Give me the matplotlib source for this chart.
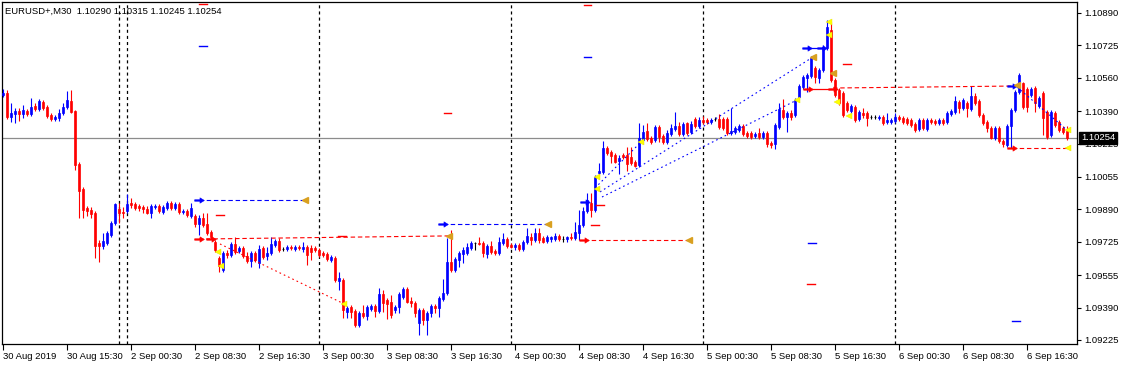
import matplotlib
matplotlib.use('Agg')
import matplotlib.pyplot as plt
from matplotlib.path import Path
import numpy as np

plt.rcParams['font.family'] = ['Liberation Sans', 'DejaVu Sans']
plt.rcParams['lines.scale_dashes'] = False

# ---------------- data ----------------
symbol_title = "EURUSD+,M30  1.10290 1.10315 1.10245 1.10254"
bid = 1.10254

opens = [
 1.10472, 1.10483, 1.10360, 1.10376, 1.10391, 1.10376, 1.10391, 1.10376, 1.10416, 1.10401,
 1.10437, 1.10411, 1.10371, 1.10350, 1.10355, 1.10381, 1.10411, 1.10442, 1.10391, 1.10121,
 1.09994, 1.09897, 1.09887, 1.09872, 1.09719, 1.09704, 1.09719, 1.09760, 1.09821, 1.09892,
 1.09877, 1.09882, 1.09923, 1.09918, 1.09907, 1.09902, 1.09892, 1.09872, 1.09902, 1.09907,
 1.09877, 1.09897, 1.09923, 1.09897, 1.09918, 1.09877, 1.09882, 1.09857, 1.09857, 1.09816,
 1.09846, 1.09816, 1.09775, 1.09724, 1.09643, 1.09582, 1.09668, 1.09658, 1.09714, 1.09678,
 1.09694, 1.09653, 1.09628, 1.09668, 1.09617, 1.09694, 1.09653, 1.09668, 1.09709, 1.09729,
 1.09689, 1.09689, 1.09699, 1.09689, 1.09699, 1.09689, 1.09699, 1.09694, 1.09694, 1.09683,
 1.09668, 1.09663, 1.09633, 1.09643, 1.09526, 1.09531, 1.09368, 1.09393, 1.09373, 1.09302,
 1.09363, 1.09348, 1.09383, 1.09398, 1.09373, 1.09460, 1.09429, 1.09419, 1.09378, 1.09393,
 1.09444, 1.09485, 1.09424, 1.09414, 1.09312, 1.09378, 1.09327, 1.09363, 1.09398, 1.09388,
 1.09434, 1.09465, 1.09622, 1.09582, 1.09633, 1.09663, 1.09668, 1.09694, 1.09719, 1.09719,
 1.09719, 1.09663, 1.09704, 1.09678, 1.09668, 1.09719, 1.09739, 1.09709, 1.09699, 1.09709,
 1.09689, 1.09724, 1.09750, 1.09734, 1.09770, 1.09745, 1.09729, 1.09739, 1.09739, 1.09755,
 1.09739, 1.09739, 1.09750, 1.09745, 1.09770, 1.09811, 1.09882, 1.09923, 1.09887, 1.10075,
 1.10081, 1.10203, 1.10182, 1.10167, 1.10137, 1.10167, 1.10167, 1.10157, 1.10131, 1.10116,
 1.10243, 1.10289, 1.10254, 1.10243, 1.10310, 1.10264, 1.10233, 1.10274, 1.10299, 1.10315,
 1.10274, 1.10330, 1.10284, 1.10350, 1.10315, 1.10345, 1.10345, 1.10335, 1.10350, 1.10350,
 1.10350, 1.10350, 1.10279, 1.10284, 1.10294, 1.10315, 1.10279, 1.10279, 1.10264, 1.10279,
 1.10259, 1.10279, 1.10228, 1.10223, 1.10310, 1.10396, 1.10360, 1.10381, 1.10371, 1.10462,
 1.10513, 1.10559, 1.10569, 1.10610, 1.10559, 1.10600, 1.10712, 1.10803, 1.10549, 1.10498,
 1.10483, 1.10432, 1.10391, 1.10411, 1.10350, 1.10381, 1.10381, 1.10360, 1.10360, 1.10355,
 1.10360, 1.10335, 1.10335, 1.10340, 1.10360, 1.10355, 1.10350, 1.10345, 1.10325, 1.10299,
 1.10345, 1.10299, 1.10345, 1.10340, 1.10330, 1.10345, 1.10335, 1.10376, 1.10386, 1.10437,
 1.10406, 1.10432, 1.10401, 1.10467, 1.10442, 1.10371, 1.10335, 1.10304, 1.10254, 1.10304,
 1.10238, 1.10218, 1.10315, 1.10396, 1.10488, 1.10534, 1.10503, 1.10472, 1.10508, 1.10416,
 1.10483, 1.10386, 1.10269, 1.10381, 1.10335, 1.10304, 1.10290]

highs = [
 1.10503, 1.10498, 1.10432, 1.10406, 1.10406, 1.10422, 1.10401, 1.10457, 1.10432, 1.10452,
 1.10447, 1.10422, 1.10381, 1.10371, 1.10401, 1.10432, 1.10493, 1.10498, 1.10396, 1.10131,
 1.10004, 1.09907, 1.09902, 1.09882, 1.09734, 1.09770, 1.09780, 1.09831, 1.09923, 1.09923,
 1.09902, 1.09969, 1.09948, 1.09928, 1.09918, 1.09913, 1.09907, 1.09918, 1.09918, 1.09918,
 1.09913, 1.09933, 1.09933, 1.09928, 1.09928, 1.09892, 1.09892, 1.09923, 1.09867, 1.09862,
 1.09872, 1.09872, 1.09785, 1.09734, 1.09653, 1.09678, 1.09683, 1.09724, 1.09750, 1.09704,
 1.09704, 1.09673, 1.09678, 1.09678, 1.09709, 1.09704, 1.09699, 1.09750, 1.09739, 1.09745,
 1.09699, 1.09709, 1.09709, 1.09709, 1.09709, 1.09724, 1.09709, 1.09709, 1.09704, 1.09694,
 1.09678, 1.09673, 1.09658, 1.09653, 1.09572, 1.09541, 1.09398, 1.09404, 1.09383, 1.09373,
 1.09404, 1.09404, 1.09409, 1.09409, 1.09490, 1.09480, 1.09439, 1.09454, 1.09404, 1.09470,
 1.09495, 1.09495, 1.09444, 1.09424, 1.09388, 1.09388, 1.09373, 1.09409, 1.09409, 1.09449,
 1.09536, 1.09745, 1.09785, 1.09648, 1.09678, 1.09699, 1.09719, 1.09729, 1.09724, 1.09750,
 1.09729, 1.09714, 1.09729, 1.09689, 1.09750, 1.09770, 1.09750, 1.09719, 1.09719, 1.09719,
 1.09734, 1.09795, 1.09770, 1.09795, 1.09795, 1.09755, 1.09760, 1.09755, 1.09770, 1.09765,
 1.09755, 1.09755, 1.09770, 1.09826, 1.09887, 1.09902, 1.09974, 1.09974, 1.10065, 1.10126,
 1.10238, 1.10213, 1.10192, 1.10177, 1.10167, 1.10177, 1.10208, 1.10208, 1.10142, 1.10330,
 1.10320, 1.10330, 1.10264, 1.10320, 1.10320, 1.10274, 1.10294, 1.10325, 1.10386, 1.10335,
 1.10335, 1.10335, 1.10340, 1.10360, 1.10360, 1.10366, 1.10355, 1.10355, 1.10360, 1.10376,
 1.10360, 1.10360, 1.10406, 1.10315, 1.10325, 1.10325, 1.10289, 1.10289, 1.10284, 1.10304,
 1.10289, 1.10289, 1.10238, 1.10330, 1.10432, 1.10452, 1.10391, 1.10396, 1.10457, 1.10528,
 1.10574, 1.10584, 1.10671, 1.10620, 1.10610, 1.10727, 1.10854, 1.10844, 1.10559, 1.10508,
 1.10493, 1.10442, 1.10427, 1.10422, 1.10396, 1.10406, 1.10391, 1.10371, 1.10371, 1.10371,
 1.10371, 1.10381, 1.10355, 1.10381, 1.10371, 1.10366, 1.10360, 1.10355, 1.10335, 1.10355,
 1.10355, 1.10355, 1.10355, 1.10350, 1.10355, 1.10355, 1.10391, 1.10401, 1.10467, 1.10447,
 1.10457, 1.10442, 1.10518, 1.10483, 1.10452, 1.10381, 1.10345, 1.10315, 1.10315, 1.10315,
 1.10248, 1.10325, 1.10406, 1.10498, 1.10584, 1.10539, 1.10513, 1.10513, 1.10518, 1.10467,
 1.10493, 1.10396, 1.10396, 1.10391, 1.10345, 1.10315, 1.10315]

lows = [
 1.10462, 1.10350, 1.10335, 1.10330, 1.10340, 1.10355, 1.10366, 1.10366, 1.10391, 1.10391,
 1.10396, 1.10355, 1.10340, 1.10340, 1.10340, 1.10371, 1.10401, 1.10381, 1.10091, 1.09846,
 1.09846, 1.09857, 1.09846, 1.09643, 1.09622, 1.09689, 1.09709, 1.09750, 1.09811, 1.09821,
 1.09846, 1.09872, 1.09897, 1.09887, 1.09882, 1.09872, 1.09867, 1.09846, 1.09892, 1.09872,
 1.09867, 1.09887, 1.09887, 1.09887, 1.09867, 1.09867, 1.09851, 1.09846, 1.09801, 1.09760,
 1.09801, 1.09760, 1.09739, 1.09673, 1.09572, 1.09572, 1.09643, 1.09648, 1.09663, 1.09668,
 1.09643, 1.09617, 1.09597, 1.09622, 1.09592, 1.09638, 1.09633, 1.09658, 1.09699, 1.09673,
 1.09678, 1.09678, 1.09683, 1.09678, 1.09683, 1.09673, 1.09607, 1.09633, 1.09673, 1.09648,
 1.09648, 1.09628, 1.09622, 1.09521, 1.09480, 1.09337, 1.09337, 1.09337, 1.09292, 1.09292,
 1.09337, 1.09327, 1.09373, 1.09342, 1.09363, 1.09368, 1.09332, 1.09337, 1.09363, 1.09363,
 1.09434, 1.09414, 1.09393, 1.09342, 1.09251, 1.09302, 1.09251, 1.09342, 1.09363, 1.09342,
 1.09424, 1.09454, 1.09572, 1.09572, 1.09597, 1.09617, 1.09658, 1.09683, 1.09683, 1.09709,
 1.09648, 1.09643, 1.09663, 1.09658, 1.09658, 1.09709, 1.09694, 1.09694, 1.09683, 1.09678,
 1.09678, 1.09714, 1.09709, 1.09724, 1.09719, 1.09719, 1.09719, 1.09724, 1.09729, 1.09729,
 1.09724, 1.09724, 1.09734, 1.09734, 1.09734, 1.09801, 1.09872, 1.09851, 1.09877, 1.10065,
 1.10070, 1.10167, 1.10126, 1.10126, 1.10070, 1.10147, 1.10086, 1.10116, 1.10106, 1.10106,
 1.10233, 1.10238, 1.10223, 1.10233, 1.10233, 1.10223, 1.10223, 1.10264, 1.10289, 1.10264,
 1.10264, 1.10269, 1.10274, 1.10304, 1.10304, 1.10325, 1.10325, 1.10325, 1.10340, 1.10299,
 1.10294, 1.10269, 1.10269, 1.10274, 1.10284, 1.10264, 1.10254, 1.10248, 1.10254, 1.10248,
 1.10248, 1.10208, 1.10203, 1.10198, 1.10299, 1.10350, 1.10284, 1.10345, 1.10360, 1.10452,
 1.10503, 1.10488, 1.10559, 1.10534, 1.10534, 1.10590, 1.10701, 1.10539, 1.10462, 1.10422,
 1.10360, 1.10386, 1.10381, 1.10335, 1.10340, 1.10355, 1.10315, 1.10350, 1.10350, 1.10345,
 1.10320, 1.10325, 1.10325, 1.10330, 1.10340, 1.10325, 1.10320, 1.10310, 1.10284, 1.10289,
 1.10294, 1.10289, 1.10325, 1.10320, 1.10320, 1.10320, 1.10325, 1.10366, 1.10376, 1.10381,
 1.10396, 1.10360, 1.10391, 1.10422, 1.10360, 1.10320, 1.10284, 1.10248, 1.10243, 1.10228,
 1.10208, 1.10208, 1.10203, 1.10386, 1.10478, 1.10401, 1.10386, 1.10462, 1.10386, 1.10406,
 1.10269, 1.10248, 1.10259, 1.10310, 1.10284, 1.10274, 1.10245]

closes = [
 1.10483, 1.10360, 1.10381, 1.10391, 1.10376, 1.10396, 1.10376, 1.10411, 1.10401, 1.10442,
 1.10406, 1.10366, 1.10350, 1.10360, 1.10381, 1.10411, 1.10447, 1.10386, 1.10116, 1.09984,
 1.09887, 1.09882, 1.09867, 1.09704, 1.09704, 1.09729, 1.09770, 1.09821, 1.09918, 1.09872,
 1.09872, 1.09918, 1.09913, 1.09897, 1.09897, 1.09892, 1.09872, 1.09907, 1.09907, 1.09882,
 1.09902, 1.09923, 1.09897, 1.09918, 1.09877, 1.09882, 1.09862, 1.09897, 1.09816, 1.09846,
 1.09811, 1.09770, 1.09750, 1.09683, 1.09602, 1.09668, 1.09658, 1.09714, 1.09673, 1.09694,
 1.09653, 1.09628, 1.09668, 1.09633, 1.09689, 1.09648, 1.09668, 1.09714, 1.09729, 1.09683,
 1.09689, 1.09699, 1.09694, 1.09699, 1.09694, 1.09699, 1.09658, 1.09673, 1.09683, 1.09658,
 1.09658, 1.09638, 1.09648, 1.09531, 1.09541, 1.09378, 1.09388, 1.09368, 1.09302, 1.09363,
 1.09348, 1.09393, 1.09398, 1.09373, 1.09460, 1.09414, 1.09409, 1.09353, 1.09393, 1.09460,
 1.09485, 1.09419, 1.09414, 1.09363, 1.09378, 1.09327, 1.09363, 1.09398, 1.09388, 1.09439,
 1.09465, 1.09622, 1.09582, 1.09638, 1.09668, 1.09683, 1.09699, 1.09719, 1.09719, 1.09714,
 1.09668, 1.09704, 1.09673, 1.09668, 1.09724, 1.09739, 1.09704, 1.09699, 1.09709, 1.09689,
 1.09724, 1.09755, 1.09734, 1.09770, 1.09734, 1.09724, 1.09750, 1.09750, 1.09755, 1.09739,
 1.09739, 1.09750, 1.09745, 1.09775, 1.09811, 1.09882, 1.09938, 1.09887, 1.10055, 1.10086,
 1.10203, 1.10177, 1.10162, 1.10131, 1.10152, 1.10157, 1.10121, 1.10126, 1.10111, 1.10254,
 1.10284, 1.10248, 1.10233, 1.10310, 1.10259, 1.10233, 1.10279, 1.10304, 1.10315, 1.10274,
 1.10325, 1.10279, 1.10325, 1.10315, 1.10345, 1.10335, 1.10335, 1.10345, 1.10350, 1.10310,
 1.10304, 1.10279, 1.10289, 1.10304, 1.10315, 1.10274, 1.10264, 1.10259, 1.10274, 1.10259,
 1.10279, 1.10223, 1.10218, 1.10320, 1.10401, 1.10360, 1.10381, 1.10360, 1.10447, 1.10518,
 1.10564, 1.10574, 1.10661, 1.10564, 1.10600, 1.10717, 1.10819, 1.10549, 1.10472, 1.10432,
 1.10371, 1.10396, 1.10416, 1.10345, 1.10386, 1.10371, 1.10355, 1.10360, 1.10360, 1.10360,
 1.10330, 1.10345, 1.10345, 1.10360, 1.10350, 1.10335, 1.10330, 1.10320, 1.10294, 1.10345,
 1.10304, 1.10345, 1.10335, 1.10330, 1.10345, 1.10330, 1.10381, 1.10391, 1.10442, 1.10406,
 1.10447, 1.10406, 1.10467, 1.10432, 1.10371, 1.10330, 1.10304, 1.10254, 1.10304, 1.10238,
 1.10223, 1.10315, 1.10396, 1.10488, 1.10574, 1.10411, 1.10411, 1.10503, 1.10432, 1.10457,
 1.10355, 1.10259, 1.10386, 1.10320, 1.10294, 1.10284, 1.10254]

# time axis labels (bar index -> label)
time_tick_bars = [0, 16, 32, 48, 64, 80, 96, 112, 128, 144, 160, 176, 192, 208, 224, 240, 256]
time_tick_labels = ["30 Aug 2019", "30 Aug 15:30", "2 Sep 00:30", "2 Sep 08:30", "2 Sep 16:30",
                    "3 Sep 00:30", "3 Sep 08:30", "3 Sep 16:30", "4 Sep 00:30", "4 Sep 08:30",
                    "4 Sep 16:30", "5 Sep 00:30", "5 Sep 08:30", "5 Sep 16:30", "6 Sep 00:30",
                    "6 Sep 08:30", "6 Sep 16:30"]
# period separators (bar index)
separator_bars = [29, 31, 79, 127, 175, 223]

price_ticks = [1.10890, 1.10725, 1.10560, 1.10390, 1.10225, 1.10055, 1.09890,
               1.09725, 1.09555, 1.09390, 1.09225]
price_tick_labels = ["1.10890", "1.10725", "1.10560", "1.10390", "1.10225", "1.10055",
                     "1.09890", "1.09725", "1.09555", "1.09390", "1.09225"]

# trade objects: (bar_start, price_start, bar_end, price_end, colour)
level_lines = [
    (49.0, 1.09938, 75.5, 1.09938, 'blue'),
    (49.0, 1.09739, 111.5, 1.09755, 'red'),
    (110.0, 1.09816, 136.25, 1.09816, 'blue'),
    (145.25, 1.09734, 171.5, 1.09734, 'red'),
    (207.5, 1.10508, 252.0, 1.10518, 'red'),
    (252.25, 1.10203, 266.25, 1.10203, 'red'),
]
diag_lines = [
    (54.25, 1.09714, 85.25, 1.09409, 'red'),
    (148.0, 1.09999, 159.5, 1.10233, 'blue'),
    (149.25, 1.09979, 202.5, 1.10666, 'blue'),
    (149.75, 1.09953, 198.5, 1.10447, 'blue'),
    (253.5, 1.10513, 266.0, 1.10294, 'blue'),
]
solid_links = [
    (201.0, 1.10712, 204.75, 1.10712, 'blue'),
    (201.25, 1.10503, 207.5, 1.10503, 'red'),
]
buy_arrows_bar = [49.0, 110.0, 145.5, 201.0, 204.75, 252.25]
buy_arrows_price = [1.09938, 1.09816, 1.09928, 1.10712, 1.10712, 1.10518]
sell_arrows_bar = [49.0, 52.0, 145.25, 201.25, 207.5, 252.25]
sell_arrows_price = [1.09739, 1.09739, 1.09734, 1.10503, 1.10503, 1.10203]
gold_tri_bar = [75.5, 111.5, 136.25, 171.5, 202.5, 207.5, 253.5]
gold_tri_price = [1.09938, 1.09755, 1.09816, 1.09734, 1.10666, 1.10584, 1.10523]
yellow_tri_bar = [53.75, 54.5, 85.25, 148.5, 148.5, 159.5, 198.5, 206.5, 206.5, 208.5,
                  211.5, 266.25, 266.25]
yellow_tri_price = [1.09673, 1.09602, 1.09409, 1.10055, 1.09994, 1.10233, 1.10447, 1.10844,
                    1.10778, 1.10437, 1.10366, 1.10294, 1.10203]
# short level dashes: (bar, price, colour)
dash_marks = [
    (50.0, 1.10936, 'red'), (50.0, 1.10722, 'blue'),
    (146.1, 1.10931, 'red'), (146.1, 1.10666, 'blue'),
    (111.1, 1.10381, 'red'), (54.25, 1.09862, 'red'),
    (84.75, 1.09755, 'red'), (149.25, 1.09913, 'red'),
    (148.0, 1.09811, 'red'), (202.25, 1.09719, 'blue'),
    (202.0, 1.09510, 'red'), (211.0, 1.10630, 'red'),
    (253.25, 1.09322, 'blue'),
]

# ---------------- drawing ----------------
W, H = 1122, 365
fig = plt.figure(figsize=(W / 100, H / 100), dpi=100)
ax = fig.add_axes([2 / W, 21 / H, 1075 / W, 342 / H])

n = min(len(opens), len(highs), len(lows), len(closes))
o = np.array(opens[:n]); h = np.array(highs[:n]); l = np.array(lows[:n]); c = np.array(closes[:n])
xb = np.arange(n)
colors = np.where(c > o, '#0000FF', np.where(c < o, '#FF0000', '#000000'))

ax.axhline(bid, color='#8C8C8C', lw=0.9, zorder=1)
for b in separator_bars:
    ax.axvline(b, color='black', lw=0.9, ls=(0, (2.2, 2.2)), zorder=1)

ax.vlines(xb, l, h, colors=colors, lw=0.8, zorder=3)
ax.bar(xb, np.abs(c - o), bottom=np.minimum(o, c), width=0.72, color=colors,
       edgecolor=colors, linewidth=0.5, zorder=3)

cmap = {'blue': '#0000FF', 'red': '#FF0000'}
for x0, p0, x1, p1, cl in level_lines:
    ax.plot([x0, x1], [p0, p1], color=cmap[cl], lw=0.8, ls=(0, (3.2, 2.0)), zorder=4)
for x0, p0, x1, p1, cl in diag_lines:
    ax.plot([x0, x1], [p0, p1], color=cmap[cl], lw=0.8, ls=(0, (1.2, 2.2)), zorder=4)
for x0, p0, x1, p1, cl in solid_links:
    ax.plot([x0, x1], [p0, p1], color=cmap[cl], lw=0.9, zorder=4)
for xm, pm, cl in dash_marks:
    ax.plot([xm - 0.9, xm + 0.9], [pm, pm], color=cmap[cl], lw=1.0, zorder=4)

arrow = Path([(-1.0, 0.15), (0.1, 0.15), (0.1, 0.55), (1.0, 0.0), (0.1, -0.55),
              (0.1, -0.15), (-1.0, -0.15), (-1.0, 0.15)],
             [Path.MOVETO] + [Path.LINETO] * 6 + [Path.CLOSEPOLY])
ax.plot(buy_arrows_bar, buy_arrows_price, ls='none', marker=arrow, ms=7,
        color='#0000FF', mew=0.4, zorder=5)
ax.plot(sell_arrows_bar, sell_arrows_price, ls='none', marker=arrow, ms=7,
        color='#FF0000', mew=0.4, zorder=5)
ax.plot(gold_tri_bar, gold_tri_price, ls='none', marker='<', ms=4.5,
        color='#D9A020', mec='#D9A020', zorder=5)
ax.plot(yellow_tri_bar, yellow_tri_price, ls='none', marker='<', ms=4.5,
        color='#FFFF00', mec='#E6E600', mew=0.3, zorder=5)

ax.set_xlim(-0.25, 268.5)
ax.set_ylim(1.092046, 1.10946)

ax.set_xticks(time_tick_bars)
ax.set_xticklabels(time_tick_labels, ha='left', fontsize=6.8)
ax.tick_params(axis='x', direction='out', length=4, width=0.8, pad=1.5, colors='black')
ax.yaxis.tick_right()
ax.set_yticks(price_ticks)
ax.set_yticklabels(price_tick_labels, fontsize=6.8)
ax.tick_params(axis='y', direction='out', length=3, width=0.8, pad=2, colors='black')
for s in ax.spines.values():
    s.set_color('black'); s.set_linewidth(0.9)

ax.text(1.0 + 4 / 1075, bid, f"{bid:.5f}", transform=ax.get_yaxis_transform(),
        ha='left', va='center', color='white', fontsize=6.8, zorder=10,
        bbox=dict(boxstyle='square,pad=0.2', fc='black', ec='black'), clip_on=False)

fig.text(5 / W, 1 - 11 / H, symbol_title, fontsize=6.8, ha='left', va='center')

fig.savefig('out.png', dpi=100, facecolor='white')
print(n)
